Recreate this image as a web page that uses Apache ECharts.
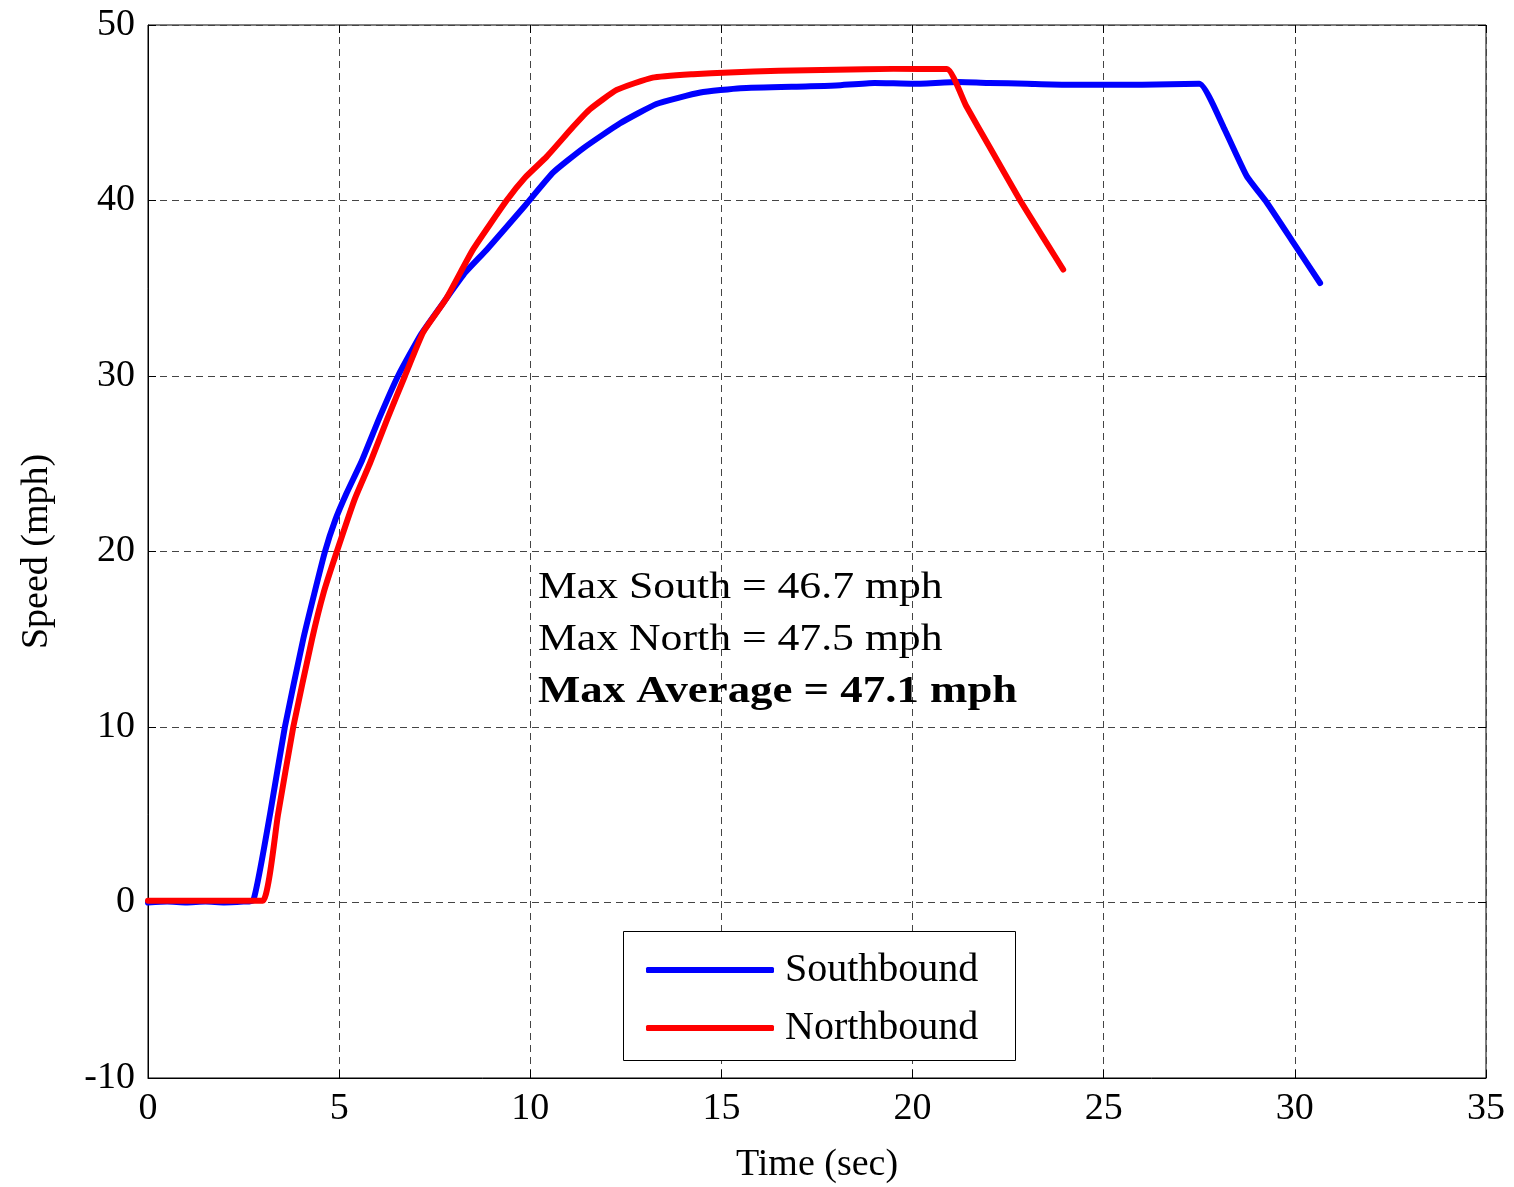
<!DOCTYPE html>
<html>
<head>
<meta charset="utf-8">
<script src="https://cdn.jsdelivr.net/npm/echarts@6/dist/echarts.min.js"></script>
<style>html,body{margin:0;padding:0;background:#fff}#c{width:1514px;height:1187px}</style>
</head>
<body>
<div id="c"></div>
<script>
// Southbound run (time in s, speed in mph)
var southT = [0, 0.5, 1.0, 1.5, 2.0, 2.5, 2.75, 3.19, 3.58, 4.06, 4.35, 4.63, 4.9, 5.19, 5.6, 6.05, 6.54, 7.15, 7.8, 8.3, 8.86, 9.86, 10.6, 11.4, 12.35, 13.3, 14.45, 15.5, 17.2, 18.0, 19.0, 20.0, 21.2, 22.0, 23.0, 24.0, 25.0, 26.0, 27.5, 28.13, 28.74, 29.26, 29.96, 30.66];
var southV = [0, 0.05, 0, 0.05, 0, 0.05, 0.1, 5, 10, 15, 17.6, 20, 21.8, 23.3, 25.2, 27.6, 30, 32.4, 34.4, 35.9, 37.2, 39.7, 41.6, 43.0, 44.4, 45.5, 46.15, 46.4, 46.5, 46.55, 46.7, 46.65, 46.75, 46.7, 46.65, 46.6, 46.6, 46.6, 46.65, 44.2, 41.4, 39.9, 37.6, 35.3];
// Northbound run
var northT = [0, 1.0, 2.0, 3.0, 3.4, 3.8, 4.29, 4.6, 4.94, 5.41, 5.8, 6.25, 6.72, 7.2, 7.8, 8.5, 9.38, 9.86, 10.43, 11.12, 11.56, 12.26, 13.2, 14.26, 15.2, 16.5, 18.0, 19.5, 20.9, 21.4, 22.0, 22.8, 23.5, 23.94];
var northV = [0.1, 0.1, 0.1, 0.1, 5, 10, 15, 17.7, 20, 23, 25, 27.5, 30, 32.5, 34.4, 37.2, 40, 41.3, 42.5, 44.2, 45.2, 46.3, 47.0, 47.2, 47.3, 47.4, 47.45, 47.5, 47.5, 45.4, 43.1, 40.06, 37.6, 36.07];
var xTicks = [0, 5, 10, 15, 20, 25, 30, 35];
var yTicks = [-10, 0, 10, 20, 30, 40, 50];
var seriesNames = ['Southbound', 'Northbound'];
var notes = ['Max South = 46.7 mph', 'Max North = 47.5 mph', 'Max Average = 47.1 mph'];

function pairs(t, v) { return t.map(function (x, i) { return [x, v[i]]; }); }

var FONT = 'Liberation Serif';
var chart = echarts.init(document.getElementById('c'), null, { renderer: 'canvas' });
var tickStyle = { show: true, inside: true, length: 8, lineStyle: { color: '#000', width: 1 } };
chart.setOption({
  animation: false,
  backgroundColor: '#fff',
  grid: { left: 148, top: 25, right: 28, bottom: 109, outerBoundsMode: 'none', containLabel: false, show: true, borderColor: '#000', borderWidth: 1, backgroundColor: 'transparent' },
  xAxis: [{
    type: 'value', min: xTicks[0], max: xTicks[xTicks.length - 1], interval: 5,
    name: 'Time (sec)', nameLocation: 'middle', nameGap: 68,
    nameTextStyle: { fontFamily: FONT, fontSize: 38, color: '#000' },
    axisLine: { show: true, onZero: false, lineStyle: { color: '#000', width: 1 } },
    axisTick: tickStyle,
    axisLabel: { fontFamily: FONT, fontSize: 38, color: '#000', margin: 12 },
    splitLine: { show: true, lineStyle: { color: '#444', width: 1, type: [7, 5] } }
  }, {
    type: 'value', position: 'top', min: 0, max: 35, interval: 5,
    axisLine: { show: false, onZero: false }, axisTick: tickStyle, axisLabel: { show: false }, splitLine: { show: false }
  }],
  yAxis: [{
    type: 'value', min: yTicks[0], max: yTicks[yTicks.length - 1], interval: 10,
    name: 'Speed (mph)', nameLocation: 'middle', nameGap: 92,
    nameTextStyle: { fontFamily: FONT, fontSize: 38, color: '#000' },
    axisLine: { show: true, onZero: false, lineStyle: { color: '#000', width: 1 } },
    axisTick: tickStyle,
    axisLabel: { fontFamily: FONT, fontSize: 38, color: '#000', margin: 13 },
    splitLine: { show: true, lineStyle: { color: '#444', width: 1, type: [7, 5] } }
  }, {
    type: 'value', position: 'right', min: -10, max: 50, interval: 10,
    axisLine: { show: false, onZero: false }, axisTick: tickStyle, axisLabel: { show: false }, splitLine: { show: false }
  }],
  legend: {
    orient: 'vertical', left: 641, top: 945, z: 10,
    icon: 'roundRect', itemWidth: 128, itemHeight: 6, itemGap: 18,
    textStyle: { fontFamily: FONT, fontSize: 40, color: '#000', lineHeight: 40, padding: [0, 0, 0, 6] },
    data: seriesNames
  },
  graphic: [
    { type: 'rect', z: 3, shape: { x: 623.5, y: 931.5, width: 392, height: 129 }, style: { fill: '#fff', stroke: '#000', lineWidth: 1 } },
    { type: 'text', z: 5, x: 538, y: 588, scaleX: 1.15, style: { text: notes[0], font: '38px "Liberation Serif"', fill: '#000', align: 'left', verticalAlign: 'middle' } },
    { type: 'text', z: 5, x: 538, y: 640, scaleX: 1.15, style: { text: notes[1], font: '38px "Liberation Serif"', fill: '#000', align: 'left', verticalAlign: 'middle' } },
    { type: 'text', z: 5, x: 538, y: 692, scaleX: 1.18, style: { text: notes[2], font: 'bold 38px "Liberation Serif"', fill: '#000', align: 'left', verticalAlign: 'middle' } }
  ],
  series: [{
    name: seriesNames[0], type: 'line', data: pairs(southT, southV), symbol: 'none', z: 2, smooth: 0.15,
    lineStyle: { color: '#0000ff', width: 6, join: 'round', cap: 'round' }, itemStyle: { color: '#0000ff' }
  }, {
    name: seriesNames[1], type: 'line', data: pairs(northT, northV), symbol: 'none', z: 2, smooth: 0.15,
    lineStyle: { color: '#ff0000', width: 6, join: 'round', cap: 'round' }, itemStyle: { color: '#ff0000' }
  }]
});
</script>
</body>
</html>
